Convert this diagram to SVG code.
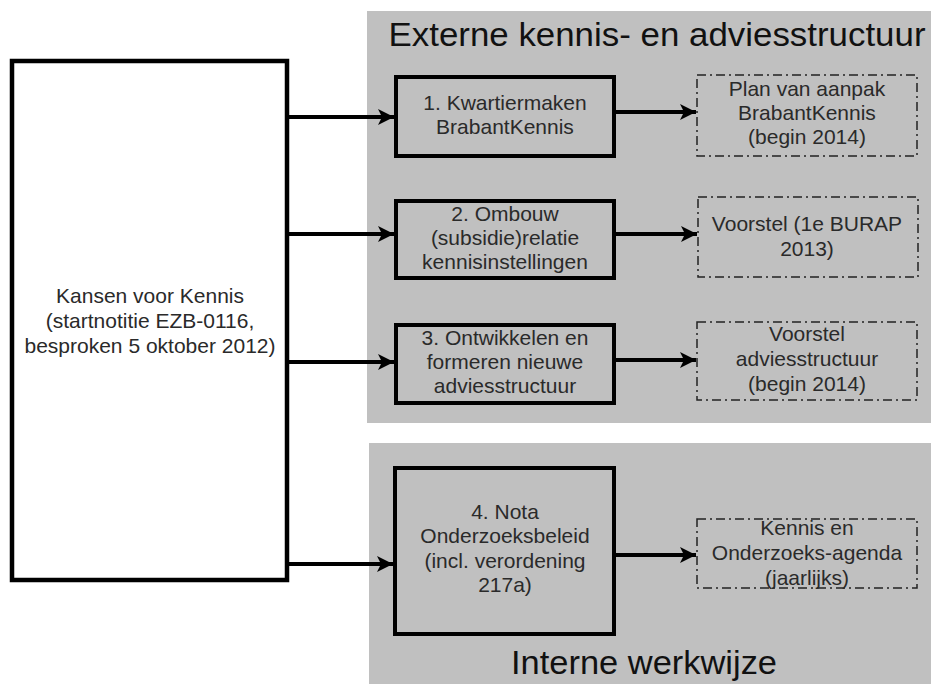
<svg xmlns="http://www.w3.org/2000/svg" width="931" height="684" viewBox="0 0 931 684">
<defs>
<marker id="ah" viewBox="0 0 16 16" refX="16" refY="8" markerWidth="16" markerHeight="16" markerUnits="userSpaceOnUse" orient="auto">
<path d="M0,0 L16,8 L0,16 L4,8 Z" fill="#000"/>
</marker>
<style>
.panel{fill:#c0c0c0;stroke:none}
.solid{fill:#c0c0c0;stroke:#000;stroke-width:4}
.start{fill:#fff;stroke:#000;stroke-width:4.5}
.dash{fill:none;stroke:#222;stroke-width:1.5;stroke-dasharray:9 4 2 4}
.t{font-family:"Liberation Sans",Arial,sans-serif;font-size:21px;fill:#2a2a2a;text-anchor:middle}
.title{font-family:"Liberation Sans",Arial,sans-serif;font-size:34px;fill:#111;text-anchor:middle}
.conn{stroke:#000;stroke-width:4;fill:none;marker-end:url(#ah)}
</style>
</defs>
<g id="panels">
<rect class="panel" x="367" y="11" width="564" height="412"/>
<rect class="panel" x="369" y="443" width="562" height="241"/>
<text class="title" x="657" y="46" textLength="537" lengthAdjust="spacingAndGlyphs">Externe kennis- en adviesstructuur</text>
<text class="title" x="644" y="674" textLength="266" lengthAdjust="spacingAndGlyphs">Interne werkwijze</text>
</g>
<g id="connectors">
<line class="conn" x1="287" y1="117" x2="394" y2="117"/>
<line class="conn" x1="287" y1="234" x2="394" y2="234"/>
<line class="conn" x1="287" y1="362" x2="394" y2="362"/>
<line class="conn" x1="287" y1="564" x2="393" y2="564"/>
<line class="conn" x1="614" y1="112" x2="696" y2="112"/>
<line class="conn" x1="614" y1="234" x2="697" y2="234"/>
<line class="conn" x1="614" y1="360" x2="696" y2="360"/>
<line class="conn" x1="614" y1="555" x2="696" y2="555"/>
</g>
<g id="start">
<rect class="start" x="12" y="61" width="275" height="519"/>
<text class="t" x="150" y="303">Kansen voor Kennis</text>
<text class="t" x="150" y="328">(startnotitie EZB-0116,</text>
<text class="t" x="150" y="353">besproken 5 oktober 2012)</text>
</g>
<g id="n1">
<rect class="solid" x="396" y="77" width="218" height="79"/>
<text class="t" x="505" y="110">1. Kwartiermaken</text>
<text class="t" x="505" y="134">BrabantKennis</text>
</g>
<g id="n2">
<rect class="solid" x="396" y="201" width="218" height="77"/>
<text class="t" x="505" y="221">2. Ombouw</text>
<text class="t" x="505" y="245">(subsidie)relatie</text>
<text class="t" x="505" y="269">kennisinstellingen</text>
</g>
<g id="n3">
<rect class="solid" x="396" y="325" width="218" height="78"/>
<text class="t" x="505" y="345">3. Ontwikkelen en</text>
<text class="t" x="505" y="369">formeren nieuwe</text>
<text class="t" x="505" y="393">adviesstructuur</text>
</g>
<g id="n4">
<rect class="solid" x="395" y="468" width="219" height="166"/>
<text class="t" x="505" y="519">4. Nota</text>
<text class="t" x="505" y="543">Onderzoeksbeleid</text>
<text class="t" x="505" y="568">(incl. verordening</text>
<text class="t" x="505" y="592">217a)</text>
</g>
<g id="r1">
<rect class="dash" x="697" y="75" width="220" height="81"/>
<text class="t" x="807" y="96">Plan van aanpak</text>
<text class="t" x="807" y="120">BrabantKennis</text>
<text class="t" x="807" y="144">(begin 2014)</text>
</g>
<g id="r2">
<rect class="dash" x="698" y="197" width="220" height="80"/>
<text class="t" x="807" y="231">Voorstel (1e BURAP</text>
<text class="t" x="807" y="256">2013)</text>
</g>
<g id="r3">
<rect class="dash" x="697" y="322" width="220" height="78"/>
<text class="t" x="807" y="341">Voorstel</text>
<text class="t" x="807" y="366">adviesstructuur</text>
<text class="t" x="807" y="391">(begin 2014)</text>
</g>
<g id="r4">
<rect class="dash" x="697" y="519" width="220" height="69"/>
<text class="t" x="807" y="535">Kennis en</text>
<text class="t" x="807" y="560">Onderzoeks-agenda</text>
<text class="t" x="807" y="585">(jaarlijks)</text>
</g>
</svg>
